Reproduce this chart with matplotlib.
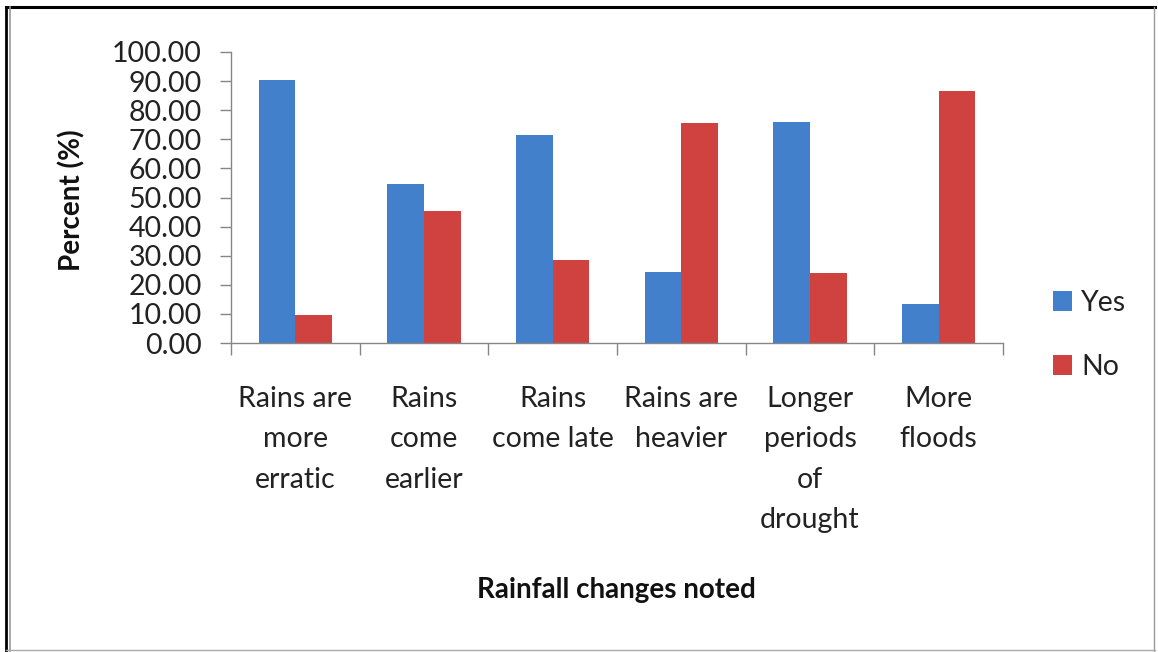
import matplotlib
matplotlib.use("Agg")
import matplotlib.pyplot as plt
from matplotlib.lines import Line2D
import numpy as np

categories = ["Rains are\nmore\nerratic", "Rains\ncome\nearlier", "Rains\ncome late",
              "Rains are\nheavier", "Longer\nperiods\nof\ndrought", "More\nfloods"]
yes_vals = [90.5, 54.6, 71.6, 24.3, 76.1, 13.5]
no_vals = [9.5, 45.4, 28.4, 75.7, 23.9, 86.5]
y_ticks = [0, 10, 20, 30, 40, 50, 60, 70, 80, 90, 100]
series_names = ["Yes", "No"]

plt.rcParams['font.family'] = ['Lato', 'DejaVu Sans']

W, H = 1158, 652
fig = plt.figure(figsize=(W / 100, H / 100), dpi=100)
ax = fig.add_axes([231 / W, 1 - 343 / H, (1003 - 231) / W, (343 - 52) / H])

blue = "#4280CB"
red = "#CF4240"
x = np.arange(len(categories))
w = 0.286
ax.bar(x - w / 2, yes_vals, w, color=blue, label=series_names[0])
ax.bar(x + w / 2, no_vals, w, color=red, label=series_names[1])

ax.set_xlim(-0.5, len(categories) - 0.5)
ax.set_ylim(0, 100)
ax.set_yticks(y_ticks)
ax.set_yticklabels([f"{v:.2f}" for v in y_ticks])
ax.tick_params(axis='y', labelsize=20.5, length=8, width=1, color="#868686", pad=13,
               labelcolor="#222222")

ax.set_xticks(np.arange(-0.5, len(categories)), labels=[])
ax.tick_params(axis='x', which='major', length=8.5, width=1, color="#868686")
ax.set_xticks(x, labels=categories, minor=True)
ax.tick_params(axis='x', which='minor', length=0, labelsize=20.5, pad=31,
               labelcolor="#222222")
for t in ax.get_xticklabels(minor=True):
    t.set_linespacing(1.68)
    t.set_verticalalignment('top')

for s in ['top', 'right']:
    ax.spines[s].set_visible(False)
for s in ['left', 'bottom']:
    ax.spines[s].set_color("#868686")
    ax.spines[s].set_linewidth(1)

fig.text(616 / W, 1 - 590 / H, "Rainfall changes noted", ha='center', va='center',
         fontsize=20, fontweight='bold', color="#111111")
fig.text(72 / W, 1 - 200 / H, "Percent (%)", ha='center', va='center', rotation=90,
         fontsize=20, fontweight='bold', color="#111111")

leg = ax.legend(loc='center left', bbox_to_anchor=(1053 / W, 1 - 335 / H),
                bbox_transform=fig.transFigure, frameon=False, fontsize=20.5,
                handlelength=0.68, handleheight=0.68, handletextpad=0.3,
                labelspacing=1.35, borderpad=0, borderaxespad=0)
for t in leg.get_texts():
    t.set_color("#222222")

# outer frame
def fl(x0, y0, x1, y1, c, lw):
    fig.add_artist(Line2D([x0 / W, x1 / W], [1 - y0 / H, 1 - y1 / H], color=c, lw=lw,
                          transform=fig.transFigure))

fl(6, 7, 1155, 7, "#000000", 2.2)
fl(6, 7, 6, 651, "#000000", 2.0)
fl(10, 7, 10, 651, "#999999", 1.2)
fl(1154, 7, 1154, 651, "#999999", 1.0)
fl(6, 650, 1155, 650, "#aaaaaa", 1.0)

fig.savefig("out.png", dpi=100)
